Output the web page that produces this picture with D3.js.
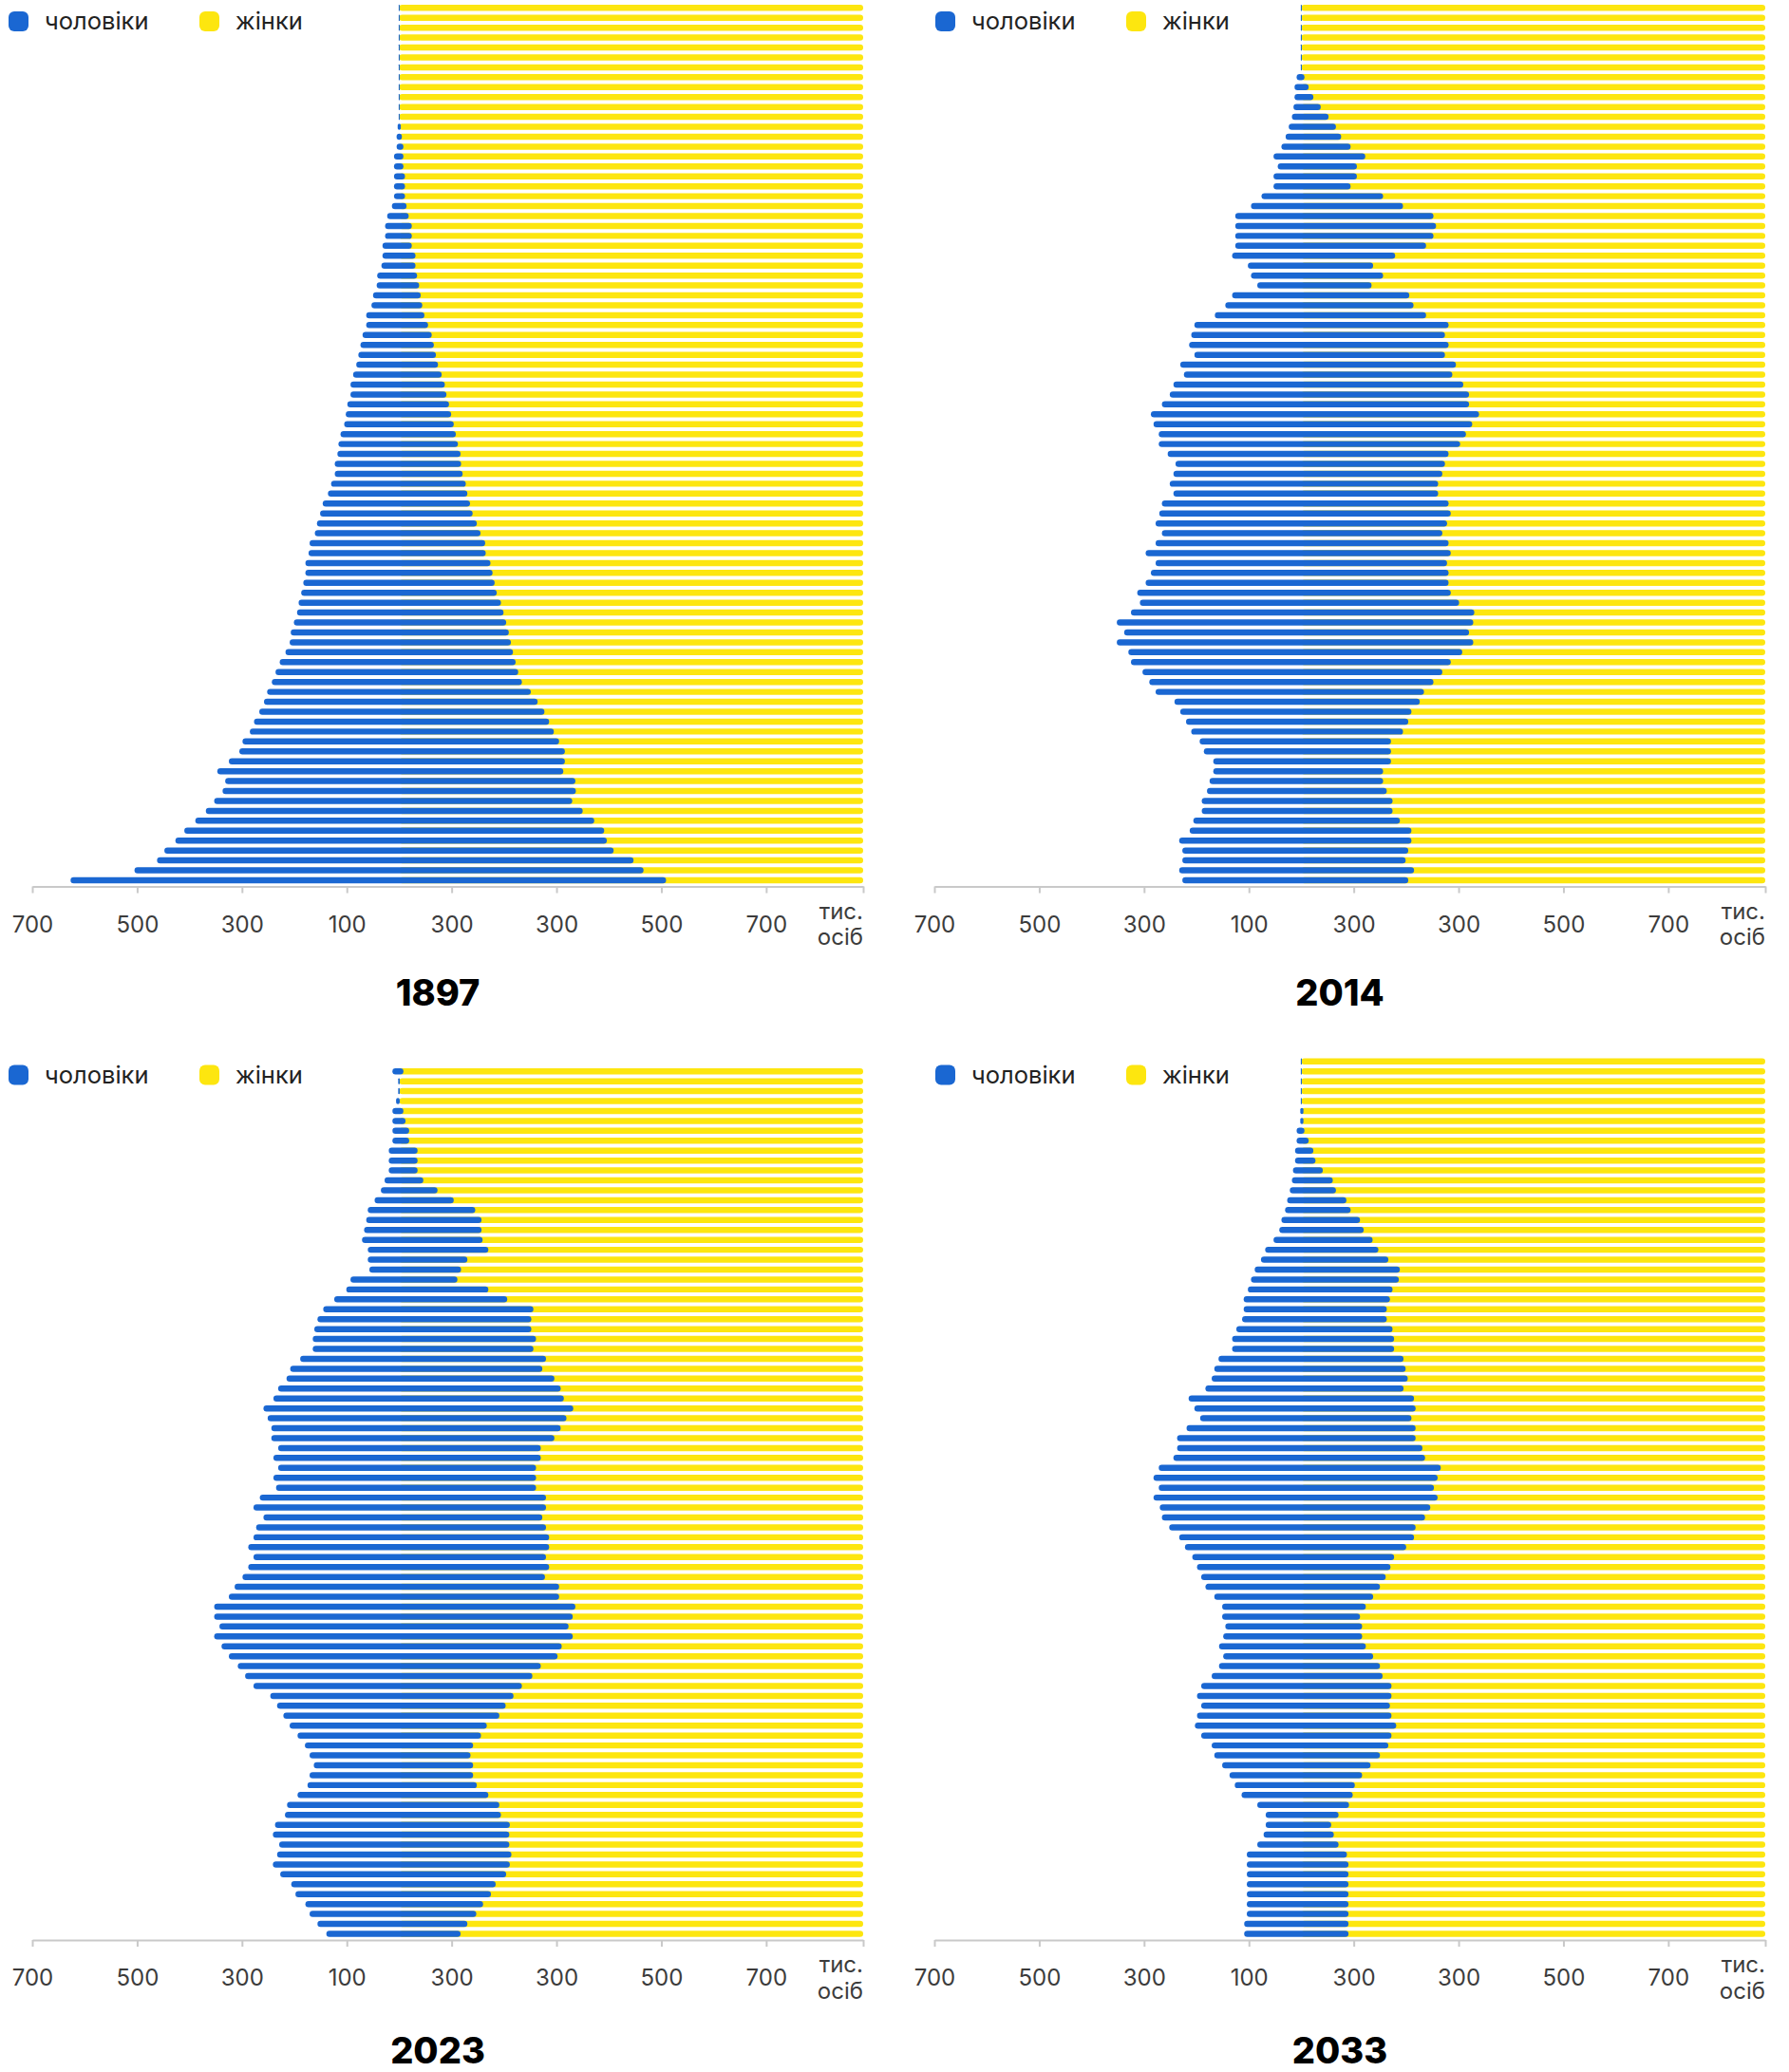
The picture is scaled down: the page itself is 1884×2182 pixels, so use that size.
<!DOCTYPE html>
<html lang="uk">
  <head>
    <meta charset="utf-8" />
    <title>Населення України за віком і статтю</title>
    <style>
      body {
        margin: 0;
        background: #fff;
        font-family: Inter, 'Noto Sans', sans-serif;
      }
      svg {
        display: block;
      }
      .axis path,
      .axis line {
        stroke: #c9c9c9;
        stroke-width: 2;
      }
      .axis text {
        fill: #3c3c3c;
        font-size: 24px;
        font-family: Inter, 'Noto Sans', sans-serif;
      }
    </style>
  </head>
  <body>
    <div class="container"></div>
    <script src="https://cdn.jsdelivr.net/npm/d3@7"></script>
    <script>
      // rows go from the top (oldest) to the bottom (age 0), thousands of people
      const years = ['1897', '2014', '2023', '2033'];

      const men1897 = [1, 1, 1, 1, 1, 1, 1, 1, 1, 1, 1, 1,
        3, 5, 5, 10, 10, 10, 10, 10, 14, 23, 27, 27, 32, 32, 34, 42, 43, 50, 53, 63, 63, 70, 74, 78, 82, 88, 93, 93, 99, 102, 105, 112, 116, 118,
        123, 123, 130, 136, 146, 151, 157, 161, 171, 173, 179, 179, 183, 187, 192, 195, 201, 207, 209, 217, 228, 236, 243, 252, 258, 267, 277, 285, 299, 305,
        325, 347, 332, 337, 353, 369, 389, 410, 427, 448, 462, 505, 627];
      const women1897 = [1, 1, 1, 1, 1, 1, 1, 1, 1, 1, 1, 1,
        3, 5, 8, 8, 8, 11, 11, 11, 14, 18, 24, 24, 24, 31, 31, 34, 38, 41, 44, 48, 55, 62, 66, 70, 74, 81, 87, 90, 95, 99, 104, 108, 112, 117,
        118, 121, 127, 130, 135, 140, 148, 155, 164, 165, 174, 178, 182, 186, 194, 199, 204, 209, 213, 217, 222, 227, 234, 251, 264, 277, 286, 295, 305, 316,
        316, 313, 336, 337, 330, 350, 372, 391, 396, 409, 447, 466, 509];

      const men2014 = [1, 1, 1, 1, 1, 1, 1, 9,
        13, 13, 15, 18, 24, 30, 38, 53, 45, 53, 53, 76, 96, 126, 126, 126, 126, 132, 102, 96, 84, 132, 145, 165, 204, 210, 214, 204, 231, 224, 244, 251, 266, 287, 282, 272, 272, 255,
        240, 244, 251, 244, 266, 271, 278, 266, 278, 297, 278, 287, 297, 313, 308, 325, 352, 338, 352, 330, 325, 303, 290, 278, 242,
        231, 220, 210, 194, 186, 168, 168, 175, 180, 190, 190, 206, 213, 233, 227, 227, 233, 227];
      const women2014 = [1, 1, 1, 1, 1, 1, 1, 6,
        14, 23, 37, 52, 66, 76, 94, 122, 106, 106, 94, 156, 194, 252, 257, 252, 238, 179, 137, 156, 134, 206, 214, 238, 281, 274, 281, 274, 295, 288, 309, 320, 320, 339, 326, 314, 303, 281,
        274, 269, 261, 261, 281, 285, 278, 269, 281, 285, 278, 281, 281, 285, 301, 330, 328, 320, 328, 307, 285, 269, 252, 234, 226,
        210, 204, 194, 171, 171, 171, 156, 156, 163, 174, 174, 188, 210, 210, 204, 199, 215, 204];

      const men2023 = [13, 2, 2, 6, 13, 13, 13, 13, 20, 20, 20, 28, 35, 47, 60, 63, 67, 71, 60, 60, 57, 93, 101, 124, 145, 156, 162, 165, 165, 189,
        208, 215, 231, 240, 259, 251, 244, 244, 231, 240, 231, 240, 235, 266,
        278, 259, 273, 278, 288, 278, 288, 299, 314, 325, 353, 353, 343, 353, 339, 325, 308, 294, 278, 246, 233, 221, 209, 194, 180,
        171, 163, 171, 175, 194, 214, 218, 237, 241, 229, 233, 241, 227, 206, 198, 179, 171, 156, 139];
      const women2023 = [8, 1, 1, 1, 8, 12, 19, 19, 35, 35, 35, 46, 73, 104, 145, 157, 157, 159, 170, 130, 118, 111, 170, 206, 256, 252, 252, 261, 256, 280,
        273, 296, 308, 314, 332, 319, 308, 296, 270, 270, 261, 261, 261, 280,
        280, 273, 280, 286, 286, 280, 286, 278, 305, 305, 336, 331, 323, 331, 310, 302, 270, 254, 234, 218, 203, 191, 167, 156, 141,
        136, 141, 141, 148, 170, 191, 194, 211, 210, 210, 214, 211, 204, 184, 175, 160, 147, 130, 117];

      const men2033 = [1, 1, 1, 1, 1, 2, 2, 9, 9, 12, 12, 16, 18, 22, 27, 31, 38, 42, 53, 69, 77, 89, 96, 102, 110, 110, 113, 124, 132, 132,
        158, 166, 171, 183, 215, 204, 193, 219, 237, 237, 244, 272, 282, 272, 282,
        270, 266, 252, 233, 222, 208, 199, 191, 183, 166, 151, 151, 145, 149, 157, 149, 157, 171, 191, 199, 191, 199, 203, 191, 171,
        166, 151, 137, 127, 114, 84, 68, 68, 72, 84, 104, 104, 104, 104, 104, 104, 104, 109, 109];
      const women2033 = [1, 1, 1, 1, 1, 4, 4, 6, 14, 23, 27, 41, 60, 66, 86, 94, 112, 119, 136, 147, 166, 188, 186, 174, 169, 163, 163, 174, 177, 177,
        195, 199, 203, 195, 215, 218, 210, 218, 218, 231, 236, 266, 260, 253, 260,
        246, 236, 218, 215, 200, 177, 170, 161, 150, 137, 123, 112, 116, 116, 123, 137, 150, 155, 172, 172, 169, 172, 181, 172, 166,
        150, 132, 116, 102, 98, 91, 71, 57, 62, 71, 87, 90, 90, 90, 90, 90, 90, 90, 90];

      const tickValues = [-700, -500, -300, -100, 100, 300, 500, 700];
      const tickLabels = ['700', '500', '300', '100', '300', '300', '500', '700'];
      const seriesNames = ['чоловіки', 'жінки'];
      const colors = ['#1a67d2', '#fde60f'];
      const xMax = 885; // right end of the axis, thousands

      const panels = [
        { year: years[0], men: men1897, women: women1897 },
        { year: years[1], men: men2014, women: women2014 },
        { year: years[2], men: men2023, women: women2023 },
        { year: years[3], men: men2033, women: women2033 },
      ];

      const width = 1884;
      const height = 2182;
      const axisW = 875;
      const rowStep = 10.44;
      const nRows = 89;
      const colLeft = [34, 984];
      const legendLeft = [9, 985];
      const axisYs = [933.5, 2043];

      const svg = d3
        .select('div.container')
        .append('svg')
        .attr('width', width)
        .attr('height', height)
        .attr('viewBox', [0, 0, width, height]);

      panels.forEach((p, pi) => {
        const col = pi % 2;
        const row = Math.floor(pi / 2);
        const left = colLeft[col];
        const axisY = axisYs[row];
        const g = svg.append('g');

        const x = d3.scaleLinear().domain([-700, xMax]).range([left, left + axisW]);
        const y = d3
          .scaleBand()
          .domain(d3.range(nRows))
          .range([axisY - 1.3 - nRows * rowStep, axisY - 1.3])
          .paddingInner(0.38)
          .paddingOuter(0.19);
        const bw = y.bandwidth();
        const offset = nRows - p.men.length;
        const rows = p.men.map((m, i) => ({ i: i + offset, men: m, women: p.women[i] }));

        // women: yellow runs to the end of the axis
        g.append('g')
          .selectAll('rect')
          .data(rows)
          .join('rect')
          .attr('x', x(0))
          .attr('y', (d) => y(d.i))
          .attr('width', x(xMax) - x(0))
          .attr('height', bw)
          .attr('rx', bw / 2)
          .attr('fill', colors[1]);

        // men: blue on top
        g.append('g')
          .selectAll('rect')
          .data(rows)
          .join('rect')
          .attr('x', (d) => x(-d.men))
          .attr('y', (d) => y(d.i))
          .attr('width', (d) => x(d.women) - x(-d.men))
          .attr('height', bw)
          .attr('rx', (d) => Math.min(bw / 2, (x(d.women) - x(-d.men)) / 2))
          .attr('fill', colors[0]);

        // axis
        g.append('g')
          .attr('class', 'axis')
          .attr('transform', `translate(0,${axisY})`)
          .call(
            d3
              .axisBottom(x)
              .tickValues(tickValues.concat([xMax]))
              .tickFormat((d, i) => tickLabels[i] || '')
              .tickSize(7)
              .tickSizeOuter(0)
              .tickPadding(24),
          );

        const unit = g
          .append('text')
          .attr('text-anchor', 'end')
          .attr('fill', '#3c3c3c')
          .style('font-size', '24px');
        unit.append('tspan').attr('x', x(xMax)).attr('y', axisY + 34).text('тис.');
        unit.append('tspan').attr('x', x(xMax)).attr('y', axisY + 61.5).text('осіб');

        // title
        g.append('text')
          .attr('x', left + 427)
          .attr('y', axisY + 125 + row * 5)
          .attr('text-anchor', 'middle')
          .attr('fill', '#000')
          .style('font-size', '38px')
          .style('font-weight', 800)
          .text(p.year);

        // legend
        const ly = axisY - 911;
        const lx = legendLeft[col];
        [0, 1].forEach((k) => {
          g.append('rect')
            .attr('x', lx + k * 201)
            .attr('y', ly - 10.5)
            .attr('width', 21)
            .attr('height', 21)
            .attr('rx', 6)
            .attr('fill', colors[k]);
          g.append('text')
            .attr('x', lx + k * 201 + 38)
            .attr('y', ly)
            .attr('dy', '0.35em')
            .attr('fill', '#222')
            .style('font-size', '25.5px')
            .text(seriesNames[k]);
        });
      });
    </script>
  </body>
</html>
